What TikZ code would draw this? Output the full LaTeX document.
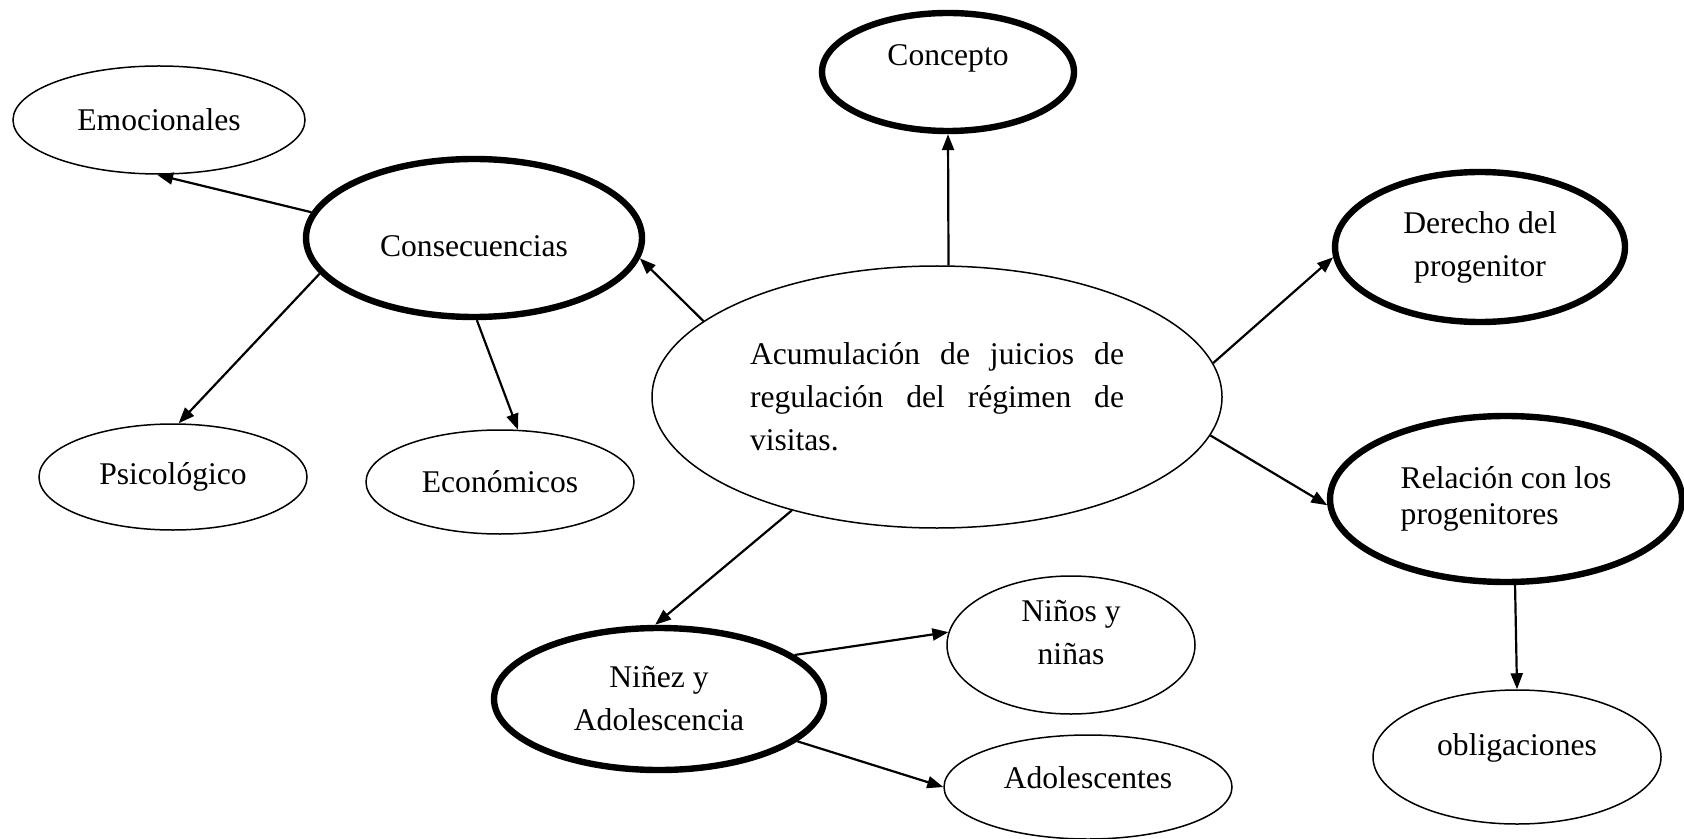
\documentclass[tikz,border=0pt]{standalone}
\usepackage{fontspec}
\setmainfont{Liberation Serif}
\usetikzlibrary{shapes.geometric,arrows.meta}

\begin{document}
\begin{tikzpicture}[x=0.5pt,y=-0.5pt,-{Triangle[length=8pt,width=6pt]},line width=1.1pt,
		font=\fontsize{15.8}{21.5}\selectfont,
		idea/.style={ellipse,draw,line width=0.75pt,inner sep=0pt},
		topic/.style={idea,line width=3.2pt}]
	\useasboundingbox (0,0) rectangle (1684,839);
	\node [idea,minimum width=146pt,minimum height=54pt] (emo) at (159,120) {Emocionales};
	\node [topic,minimum width=168pt,minimum height=79pt,text height=19pt,text depth=0pt] (cons) at (474,238) {Consecuencias};
	\node [topic,minimum width=126pt,minimum height=59pt,text height=11pt,text depth=17pt] (conc) at (948,72) {Concepto};
	\node [idea,minimum width=285pt,minimum height=131pt,text width=187pt,align=justify] (cen) at (937,397)
		{\tolerance=10000 \emergencystretch=3em Acumulación de juicios de regulación del régimen de \mbox{visitas.}};
	\node [topic,minimum width=145pt,minimum height=75pt,align=center] (der) at (1480,247) {Derecho del\\progenitor};
	\node [topic,minimum width=176pt,minimum height=83pt,align=left,font=\fontsize{15.8}{18.3}\selectfont] (rel) at (1506,499)
		{Relación con los\\progenitores};
	\node [idea,minimum width=144pt,minimum height=67pt,text height=11pt,text depth=13pt] (obl) at (1517,757) {obligaciones};
	\node [idea,minimum width=134pt,minimum height=53pt] (psi) at (173,477) {Psicológico};
	\node [idea,minimum width=134pt,minimum height=52pt] (eco) at (500,482) {Económicos};
	\node [topic,minimum width=165pt,minimum height=71pt,align=center] (nin) at (659,699) {Niñez y\\Adolescencia};
	\node [idea,minimum width=124pt,minimum height=69pt,align=center,text height=32pt,text depth=13pt] (ninos) at (1071,645) {Niños y\\niñas};
	\node [idea,minimum width=144pt,minimum height=52pt,text height=11pt,text depth=10pt] (ado) at (1088,787) {Adolescentes};
	\path (cons.171) edge (emo.268);
	\path (cen.162) edge (cons.-7);
	\path (cons.193) edge (psi.84);
	\path (cons.272) edge (eco.71);
	\path (cen.85) edge (conc.270);
	\path (cen.7) edge (der.184);
	\path (cen.-8) edge (rel.182);
	\path (cen.218) edge (nin.93);
	\path (nin.18) edge (ninos.174);
	\path (nin.-17) edge (ado.180);
	\path (rel.276) edge (obl.north);
\end{tikzpicture}
\end{document}
